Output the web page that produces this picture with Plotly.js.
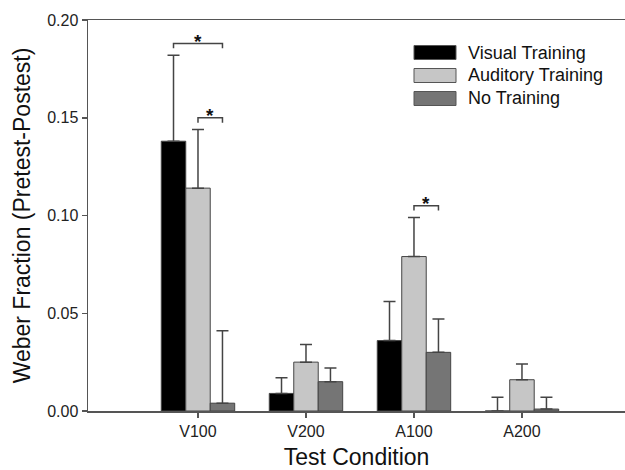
<!DOCTYPE html>
<html>
<head>
<meta charset="utf-8">
<script src="https://cdn.plot.ly/plotly-3.0.1.min.js"></script>
<style>html,body{margin:0;padding:0;background:#fff;overflow:hidden;width:625px;height:470px;}#chart{width:625px;height:470px;}</style>
</head>
<body>
<div id="chart"></div>
<script>
// ---- data ----
var categories = ["V100", "V200", "A100", "A200"];
var seriesNames = ["Visual Training", "Auditory Training", "No Training"];
var visualValues = [0.138, 0.009, 0.036, 0.000];
var visualErr = [0.044, 0.008, 0.020, 0.007];
var auditoryValues = [0.114, 0.025, 0.079, 0.016];
var auditoryErr = [0.030, 0.009, 0.020, 0.008];
var noTrainValues = [0.004, 0.015, 0.030, 0.001];
var noTrainErr = [0.037, 0.007, 0.017, 0.006];
var yTickVals = [0, 0.05, 0.10, 0.15, 0.20];
var yTickText = ["0.00", "0.05", "0.10", "0.15", "0.20"];
// significance brackets: [category index, from series, to series, y level]
var sigCategory = [0, 0, 2];
var sigFrom = [0, 1, 1];
var sigTo = [2, 2, 2];
var sigLevel = [0.188, 0.150, 0.105];

// ---- styling ----
var colors = ["#000000", "#c6c6c6", "#757575"];
var FONT = "Liberation Sans, Arial, Helvetica, sans-serif";
var bargap = 0.32;
var barW = (1 - bargap) / 3;
var W = 625, H = 470, mL = 88, mR = 0, mT = 20, mB = 59;
function px2x(px) { return (px - mL) / (W - mL - mR); }
function px2y(py) { return (H - mB - py) / (H - mT - mB); }

var xIdx = categories.map(function (c, i) { return i; });
var vals = [visualValues, auditoryValues, noTrainValues];
var errs = [visualErr, auditoryErr, noTrainErr];

var traces = vals.map(function (v, s) {
  return {
    type: "bar",
    name: seriesNames[s],
    x: xIdx,
    y: v,
    marker: { color: colors[s], line: { color: "#444", width: 1 } },
    error_y: {
      type: "data", symmetric: false, array: errs[s],
      arrayminus: v.map(function () { return 0; }),
      color: "#444", thickness: 1.5, width: 6
    },
    showlegend: false
  };
});

var shapes = [];
var annotations = [];
// significance brackets
for (var k = 0; k < sigCategory.length; k++) {
  var x0 = sigCategory[k] + (sigFrom[k] - 1) * barW;
  var x1 = sigCategory[k] + (sigTo[k] - 1) * barW;
  var y = sigLevel[k], yl = y - 0.0025;
  shapes.push({
    type: "path", xref: "x", yref: "y",
    path: "M" + x0 + "," + yl + " L" + x0 + "," + y + " L" + x1 + "," + y + " L" + x1 + "," + yl,
    line: { color: "#444", width: 1.5 }
  });
  annotations.push({
    xref: "x", yref: "y", x: (x0 + x1) / 2, y: y + 0.0012,
    text: "<b>*</b>", showarrow: false, xanchor: "center", yanchor: "middle",
    font: { family: FONT, size: 19, color: "#111" }
  });
}
// custom legend (long swatches like the reference)
for (var s = 0; s < seriesNames.length; s++) {
  var cy = 52.5 + s * 23;
  shapes.push({
    type: "rect", xref: "paper", yref: "paper",
    x0: px2x(414), x1: px2x(456), y0: px2y(cy + 7), y1: px2y(cy - 7),
    fillcolor: colors[s], line: { color: "#555", width: 1 }
  });
  annotations.push({
    xref: "paper", yref: "paper", x: px2x(466), y: px2y(cy),
    text: seriesNames[s], showarrow: false, xanchor: "left", yanchor: "middle",
    font: { family: FONT, size: 18, color: "#111" }
  });
}

var layout = {
  width: W, height: H,
  margin: { l: mL, r: mR, t: mT, b: mB, pad: 0 },
  paper_bgcolor: "#fff", plot_bgcolor: "#fff",
  barmode: "group", bargap: bargap, bargroupgap: 0,
  showlegend: false,
  font: { family: FONT, color: "#222" },
  xaxis: {
    range: [-1.0185, 3.954],
    tickvals: xIdx, ticktext: categories,
    ticks: "outside", ticklen: 5, tickwidth: 1.5, tickcolor: "#555",
    showline: true, linecolor: "#555", linewidth: 1.5, mirror: true,
    showgrid: false, zeroline: false,
    tickfont: { family: FONT, size: 16, color: "#222" },
    title: { text: "Test Condition", font: { family: FONT, size: 23, color: "#111" }, standoff: 12 }
  },
  yaxis: {
    range: [0, 0.2],
    tickvals: yTickVals, ticktext: yTickText,
    ticks: "outside", ticklen: 5, tickwidth: 1.5, tickcolor: "#555",
    showline: true, linecolor: "#555", linewidth: 1.5, mirror: false,
    showgrid: false, zeroline: false,
    tickfont: { family: FONT, size: 16, color: "#222" },
    title: { text: "Weber Fraction (Pretest-Postest)", font: { family: FONT, size: 23, color: "#111" }, standoff: 10 }
  },
  shapes: shapes,
  annotations: annotations
};

Plotly.newPlot("chart", traces, layout, { staticPlot: true, displayModeBar: false });
</script>
</body>
</html>
